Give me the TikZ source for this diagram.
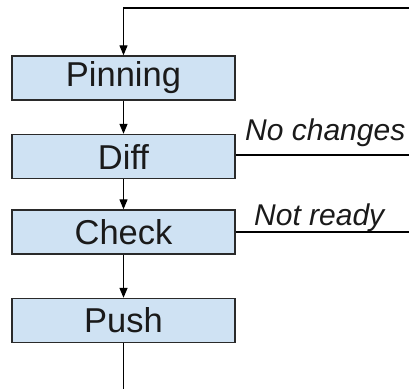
\documentclass[tikz,border=0pt]{standalone}
\usepackage{fontspec}
\setmainfont{Liberation Sans}
\usetikzlibrary{arrows.meta}
\definecolor{boxfill}{HTML}{CFE2F3}
\definecolor{boxline}{HTML}{2A2A2A}
\definecolor{txt}{HTML}{1A1A1A}
\begin{document}
\begin{tikzpicture}[x=1pt,y=-1pt,
  stepbox/.style={draw=boxline,line width=1.4pt,fill=boxfill,minimum width=223pt,minimum height=44pt,inner sep=0pt,font=\fontsize{34.5}{37}\selectfont,text=txt},
  conn/.style={draw=black,line width=1.3pt},
  arr/.style={conn,-{Triangle[width=8pt,length=10pt]}},
  lbl/.style={font=\fontsize{30}{32}\selectfont\itshape,text=txt,inner sep=0pt,anchor=base west}]
\useasboundingbox (0,0) rectangle (409,389);
\node[stepbox] (pin) at (123.5,78) {Pinning};
\node[stepbox] (diff) at (123.5,156.5) {Diff};
\node[stepbox] (check) at (123.5,232) {Check};
\node[stepbox] (push) at (123.5,320.5) {Push};
\coordinate (loopR) at (409,8);
\coordinate (loopL) at (123.5,8);
\coordinate (ncR) at (409,155);
\coordinate (nrR) at (409,232);
\coordinate (endB) at (123.5,389);
\draw[arr] (loopR) -- (loopL) -- (pin.north);
\draw[arr] (pin.south) -- (diff.north);
\draw[arr] (diff.south) -- (check.north);
\draw[arr] (check.south) -- (push.north);
\draw[conn] (push.south) -- (endB);
\draw[conn] (diff.east |- ncR) -- (ncR);
\draw[conn] (check.east |- nrR) -- (nrR);
\node[lbl] (nc) at (245,140) {No changes};
\node[lbl] (nr) at (254,225) {Not ready};
\end{tikzpicture}
\end{document}
